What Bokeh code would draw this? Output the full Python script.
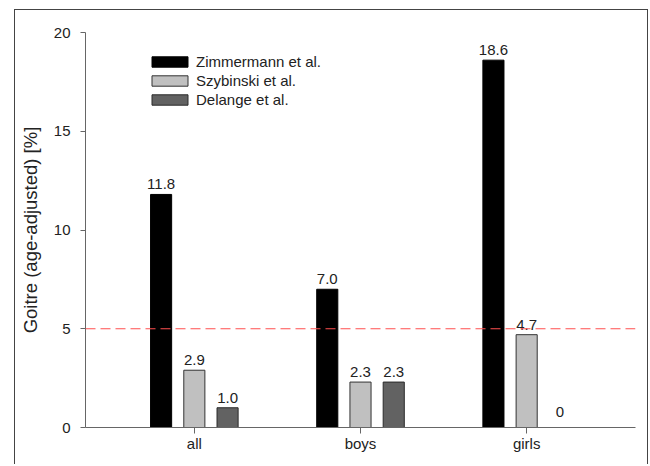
from bokeh.plotting import figure
from bokeh.models import ColumnDataSource, FactorRange, Range1d, Span, FixedTicker, Legend
from bokeh.transform import dodge
from bokeh.core.properties import value
from bokeh.embed import file_html
from bokeh.resources import INLINE

categories = ["all", "boys", "girls"]
series_names = ["Zimmermann et al.", "Szybinski et al.", "Delange et al."]
zimmermann = [11.8, 7.0, 18.6]
szybinski = [2.9, 2.3, 4.7]
delange = [1.0, 2.3, 0.0]
y_ticks = [0, 5, 10, 15, 20]
reference_line = 5

series = [zimmermann, szybinski, delange]
fills = ["#000000", "#c0c0c0", "#626262"]
outlines = ["#000000", "#333333", "#2a2a2a"]
offsets = [-0.2, 0.0, 0.2]
FONT = "Liberation Sans"

p = figure(
    x_range=FactorRange(*categories, range_padding=0.155, range_padding_units="absolute"),
    y_range=Range1d(0, 20),
    width=634, height=455,
    output_backend="svg", toolbar_location=None, title=None,
    min_border_left=70, min_border_right=14, min_border_top=22, min_border_bottom=38,
)
p.margin = (9, 0, 0, 14)
p.styles = {"border": "1.5px solid #444444", "border-bottom": "none"}
p.xgrid.visible = False
p.ygrid.visible = False
p.outline_line_color = None
p.background_fill_color = "white"
p.border_fill_color = "white"

legend_items = []
for name, vals, fc, lc, off in zip(series_names, series, fills, outlines, offsets):
    src = ColumnDataSource(dict(
        cat=categories,
        val=vals,
        lbl=[f"{v:.1f}" if v else "0" for v in vals],
        yoff=[-5 if v else -11 for v in vals],
    ))
    r = p.vbar(x=dodge("cat", off, range=p.x_range), top="val", bottom=0, width=0.127,
               source=src, fill_color=fc, line_color=lc, line_width=1)
    legend_items.append((name, [r]))
    p.text(x=dodge("cat", off, range=p.x_range), y="val", text="lbl", source=src,
           text_font=value(FONT), text_font_size="15px", text_color="#222222",
           text_align="center", text_baseline="bottom", y_offset="yoff")

p.add_layout(Span(location=reference_line, dimension="width", line_color="#ff5050",
                  line_dash="10 5", line_width=1.1))

legend = Legend(items=legend_items, location=(62, 318))
legend.label_text_font = FONT
legend.label_text_font_size = "15px"
legend.label_text_color = "#222222"
legend.background_fill_alpha = 0
legend.border_line_alpha = 0
legend.padding = 0
legend.margin = 0
legend.spacing = 0
legend.glyph_width = 45
legend.glyph_height = 13
legend.label_height = 19
legend.label_standoff = 4
p.add_layout(legend)

# y axis
ya = p.yaxis[0]
ya.ticker = FixedTicker(ticks=y_ticks)
ya.minor_tick_line_color = None
ya.major_tick_in = 0
ya.major_tick_out = 5
ya.major_label_standoff = 10
ya.axis_line_color = "#666666"
ya.major_tick_line_color = "#666666"
ya.major_label_text_font = FONT
ya.major_label_text_font_size = "15px"
ya.major_label_text_color = "#222222"
ya.axis_label = "Goitre (age-adjusted) [%]"
ya.axis_label_text_font = FONT
ya.axis_label_text_font_size = "18.5px"
ya.axis_label_text_font_style = "normal"
ya.axis_label_text_color = "#222222"
ya.axis_label_standoff = 10

# x axis
xa = p.xaxis[0]
xa.major_tick_in = 0
xa.major_tick_out = 6
xa.major_label_standoff = 1
xa.axis_line_color = "#666666"
xa.major_tick_line_color = "#666666"
xa.major_label_text_font = FONT
xa.major_label_text_font_size = "15px"
xa.major_label_text_color = "#222222"
xa.major_label_orientation = "horizontal"

open("out.html", "w").write(file_html(p, INLINE))
